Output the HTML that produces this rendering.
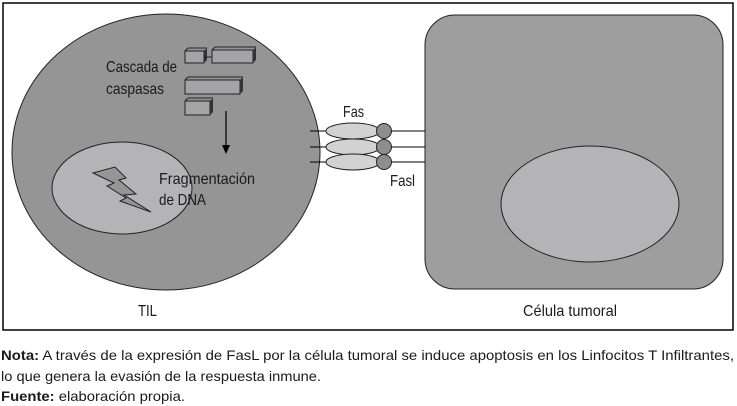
<!DOCTYPE html>
<html><head><meta charset="utf-8"><style>
html,body{margin:0;padding:0;background:#fff;width:737px;height:406px;overflow:hidden}
svg text{font-family:"Liberation Sans Narrow","Liberation Sans",sans-serif;fill:#1a1a1a}
</style></head><body>
<svg width="737" height="406" viewBox="0 0 737 406" xmlns="http://www.w3.org/2000/svg">
<rect x="3" y="3" width="730" height="327" fill="none" stroke="#000" stroke-width="1.5"/>
<ellipse cx="166" cy="152" rx="154" ry="138" fill="#959595" stroke="#222" stroke-width="1"/>
<ellipse cx="122" cy="188" rx="70" ry="46" fill="#b4b4b7" stroke="#222" stroke-width="1"/>
<polygon points="93,173 115,167 126,178 119,180 136,194 124,195 151,212 120,201 126,198 107,186 114,183" fill="#959595" stroke="#222" stroke-width="1"/>
<g fill="#a4a4a6" stroke="#222" stroke-width="1">
<rect x="185" y="51" width="19" height="12"/><rect x="212" y="50" width="41" height="13"/>
<rect x="185" y="80" width="55" height="14"/><rect x="185" y="101" width="25" height="14"/>
</g>
<g fill="#333"><polygon points="204,51 207,48 207,60 204,63"/><polygon points="253,50 256,47 256,60 253,63"/><polygon points="240,80 243,77 243,91 240,94"/><polygon points="210,101 213,98 213,112 210,115"/></g>
<g stroke="#222" stroke-width="1" fill="none"><line x1="185" y1="51" x2="188" y2="48"/><line x1="188" y1="48" x2="207" y2="48"/><line x1="212" y1="50" x2="215" y2="47"/><line x1="215" y1="47" x2="256" y2="47"/><line x1="185" y1="80" x2="188" y2="77"/><line x1="188" y1="77" x2="243" y2="77"/><line x1="185" y1="101" x2="188" y2="98"/><line x1="188" y1="98" x2="213" y2="98"/><line x1="204" y1="57" x2="212" y2="57"/></g>
<line x1="226" y1="111" x2="226" y2="148" stroke="#000" stroke-width="1.2"/>
<polygon points="222,145 230,145 226,154" fill="#000"/>
<rect x="425" y="15" width="298" height="274" rx="30" fill="#9e9e9f" stroke="#222" stroke-width="1"/>
<ellipse cx="590" cy="204" rx="89" ry="58" fill="#b4b4b7" stroke="#222" stroke-width="1"/>
<g stroke="#000" stroke-width="1">
<line x1="310" y1="131" x2="330" y2="131"/><line x1="310" y1="147" x2="330" y2="147"/><line x1="310" y1="162" x2="330" y2="162"/>
<line x1="390" y1="131" x2="425" y2="131"/><line x1="390" y1="147" x2="425" y2="147"/><line x1="390" y1="162" x2="425" y2="162"/>
</g>
<g fill="#d2d2d2" stroke="#222" stroke-width="1">
<ellipse cx="353" cy="131" rx="27" ry="8"/><ellipse cx="353" cy="147" rx="27" ry="8"/><ellipse cx="353" cy="162" rx="27" ry="8"/>
</g>
<g fill="#8e8e8e" stroke="#222" stroke-width="1">
<circle cx="384" cy="131" r="7.5"/><circle cx="384" cy="147" r="7.5"/><circle cx="384" cy="162" r="7.5"/>
</g>
<g font-size="16">
<text x="106" y="72" textLength="71" lengthAdjust="spacingAndGlyphs">Cascada de</text>
<text x="106" y="94" textLength="58" lengthAdjust="spacingAndGlyphs">caspasas</text>
<text x="159" y="184" textLength="96" lengthAdjust="spacingAndGlyphs">Fragmentación</text>
<text x="159" y="205" textLength="47" lengthAdjust="spacingAndGlyphs">de DNA</text>
<text x="343" y="117" textLength="21" lengthAdjust="spacingAndGlyphs">Fas</text>
<text x="390" y="186" textLength="25" lengthAdjust="spacingAndGlyphs">Fasl</text>
<text x="138" y="316" textLength="19" lengthAdjust="spacingAndGlyphs">TIL</text>
<text x="523" y="316" textLength="94" lengthAdjust="spacingAndGlyphs">Célula tumoral</text>
</g>
<g font-size="14">
<text x="1" y="360" textLength="733" lengthAdjust="spacingAndGlyphs"><tspan font-weight="bold">Nota:</tspan> A través de la expresión de FasL por la célula tumoral se induce apoptosis en los Linfocitos T Infiltrantes,</text>
<text x="1" y="381" textLength="320" lengthAdjust="spacingAndGlyphs">lo que genera la evasión de la respuesta inmune.</text>
<text x="1" y="401" textLength="184" lengthAdjust="spacingAndGlyphs"><tspan font-weight="bold">Fuente:</tspan> elaboración propia.</text>
</g>
</svg>
</body></html>
